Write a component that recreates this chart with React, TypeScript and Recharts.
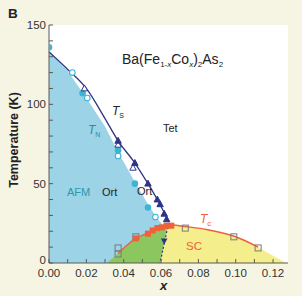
import React from 'react';
import { ComposedChart, XAxis, YAxis, Area, Line, Scatter, CartesianGrid } from 'recharts';

// Co content x and temperature (K)
const afmX = [0, 0.01, 0.02, 0.03, 0.037, 0.046, 0.053, 0.058, 0.061];
const afmT = [134, 121, 104, 86, 70, 51, 37, 28, 24];

const coexX = [0.031, 0.037, 0.0465, 0.053, 0.058, 0.0595, 0.0635];
const coexLo = [0, 0, 0, 0, 0, 0, 23.5];
const coexHi = [0, 6, 15.5, 19, 22, 22.5, 23.5];

const scX = [0.0595, 0.062, 0.066, 0.073, 0.085, 0.1, 0.112, 0.12, 0.127];
const scT = [22.5, 23, 24, 23, 21, 16.5, 10, 4.5, 0];

const tsX = [0, 0.01, 0.02, 0.03, 0.037, 0.046, 0.053, 0.058, 0.062, 0.064];
const tsT = [133, 122, 110, 91, 77, 63, 50, 40, 31, 26];

const tcX = [0.037, 0.0465, 0.053, 0.058, 0.062, 0.066, 0.073, 0.085, 0.1, 0.112];
const tcT = [6, 15.5, 19, 22, 23, 24, 23, 21, 16.5, 10];

const dropX = [0.064, 0.0595];
const dropT = [25, 0];

const cyanFilledX = [0, 0.018, 0.037, 0.046, 0.053];
const cyanFilledT = [136, 107, 71, 50, 35];
const cyanOpenX = [0.0125, 0.0205, 0.037, 0.057];
const cyanOpenT = [120, 104, 67.5, 29];

const navyFilledX = [0.037, 0.046, 0.053, 0.058, 0.0595, 0.0617, 0.063];
const navyFilledT = [77, 63, 50, 40, 37, 31, 27.5];
const navyOpenX = [0.019, 0.037, 0.045];
const navyOpenT = [110, 74.5, 60];
const navyDownX = [0.0617];
const navyDownT = [14];

const orangeX = [0.0465, 0.053, 0.0555, 0.058, 0.0605, 0.063, 0.0655];
const orangeT = [15.5, 18.5, 20.5, 22, 22.5, 23.5, 23.5];
const grayX = [0.037, 0.037, 0.0465, 0.073, 0.099, 0.112];
const grayT = [9.5, 5.7, 16.5, 22, 16.5, 9.5];

const xTicks = [0, 0.01, 0.02, 0.03, 0.04, 0.05, 0.06, 0.07, 0.08, 0.09, 0.1, 0.11, 0.12];
const yTicks = [0, 10, 20, 30, 40, 50, 60, 70, 80, 90, 100, 110, 120, 130, 140, 150];

const zip = (xs: number[], ts: number[]) => xs.map((x, i) => ({ x, t: ts[i] }));
const band = (xs: number[], lo: number[], hi: number[]) => xs.map((x, i) => ({ x, t: [lo[i], hi[i]] }));

const NAVY = '#2E3586';
const CYAN = '#3DB3D5';
const ORANGE = '#F0603A';
const FONT = '"Liberation Sans", Arial, sans-serif';

const circleFilled = (p: any) => <circle cx={p.cx} cy={p.cy} r={3.3} fill={CYAN} />;
const circleOpen = (p: any) => <circle cx={p.cx} cy={p.cy} r={2.8} fill="#fff" stroke={CYAN} strokeWidth={1.1} />;
const triUp = (fill: string) => (p: any) => (
  <path d={`M${p.cx},${p.cy - 3.5}L${p.cx + 3.2},${p.cy + 2.4}L${p.cx - 3.2},${p.cy + 2.4}Z`} fill={fill} stroke={NAVY} strokeWidth={1} />
);
const triDown = (p: any) => (
  <path d={`M${p.cx},${p.cy + 3.8}L${p.cx + 3.3},${p.cy - 2.4}L${p.cx - 3.3},${p.cy - 2.4}Z`} fill={NAVY} />
);
const sqOrange = (p: any) => <rect x={p.cx - 3} y={p.cy - 3} width={6} height={6} fill={ORANGE} />;
const sqGray = (p: any) => <rect x={p.cx - 3} y={p.cy - 3} width={6} height={6} fill="none" stroke="#7a7a7a" strokeWidth={1} />;

const fmtX = (v: number) => (Math.round(v * 100) % 2 === 0 ? v.toFixed(2) : '');
const tickStyle = { fill: '#333', fontSize: 11.5, fontFamily: FONT };

// y labels only every 50 K; the 0 sits a little above the axis like the original
const YTick = (p: any) => {
  const v = p.payload.value;
  if (v % 50 !== 0) return <g />;
  return (
    <text x={p.x} y={p.y + (v === 0 ? -3 : 0)} dy="0.355em" textAnchor="end" {...tickStyle}>
      {v}
    </text>
  );
};

export default function App() {
  return (
    <div style={{ position: 'absolute', left: 0, top: 0, width: 302, height: 296, background: '#F6F4E3' }}>
      <ComposedChart width={302} height={296} margin={{ top: 25, right: 14, left: 9, bottom: 13 }}>
        <CartesianGrid fill="#fff" stroke="none" horizontal={false} vertical={false} xAxisId="b" yAxisId="l" />
        <XAxis xAxisId="b" type="number" dataKey="x" domain={[0, 0.128]} ticks={xTicks} tickFormatter={fmtX}
          allowDataOverflow interval={0} height={20} tickSize={-4} tickMargin={10} stroke="#5a5a5a" tick={tickStyle} />
        <XAxis xAxisId="t" orientation="top" type="number" dataKey="x" domain={[0, 0.128]} ticks={xTicks}
          tickFormatter={() => ''} allowDataOverflow interval={0} height={0} tickSize={-4} stroke="#5a5a5a" />
        <YAxis yAxisId="l" type="number" dataKey="t" domain={[0, 150]} ticks={yTicks} tick={YTick}
          allowDataOverflow interval={0} width={40} tickSize={-4} tickMargin={7} stroke="#5a5a5a" />
        <YAxis yAxisId="r" orientation="right" type="number" dataKey="t" domain={[0, 150]} ticks={yTicks}
          tickFormatter={() => ''} allowDataOverflow interval={0} width={0} tickSize={-4} stroke="#5a5a5a" />

        <Area xAxisId="b" yAxisId="l" data={zip(afmX, afmT)} dataKey="t" type="linear" stroke="none" fill="#9CD3E7" fillOpacity={1} isAnimationActive={false} activeDot={false} />
        <Area xAxisId="b" yAxisId="l" data={zip(scX, scT)} dataKey="t" type="monotone" stroke="none" fill="#F4EE8C" fillOpacity={1} isAnimationActive={false} activeDot={false} />
        <Area xAxisId="b" yAxisId="l" data={band(coexX, coexLo, coexHi)} dataKey="t" type="linear" stroke="none" fill="#8CC65F" fillOpacity={1} isAnimationActive={false} activeDot={false} />

        <Line xAxisId="b" yAxisId="l" data={zip(tsX, tsT)} dataKey="t" type="monotone" stroke={NAVY} strokeWidth={1.3} dot={false} isAnimationActive={false} />
        <Line xAxisId="b" yAxisId="l" data={zip(tcX, tcT)} dataKey="t" type="monotone" stroke={ORANGE} strokeWidth={1.5} dot={false} isAnimationActive={false} />
        <Line xAxisId="b" yAxisId="l" data={zip(dropX, dropT)} dataKey="t" type="linear" stroke={NAVY} strokeWidth={1.2} strokeDasharray="2 2" dot={false} isAnimationActive={false} />

        <Scatter xAxisId="b" yAxisId="l" data={zip(grayX, grayT)} dataKey="t" shape={sqGray} isAnimationActive={false} />
        <Scatter xAxisId="b" yAxisId="l" data={zip(orangeX, orangeT)} dataKey="t" shape={sqOrange} isAnimationActive={false} />
        <Scatter xAxisId="b" yAxisId="l" data={zip(cyanOpenX, cyanOpenT)} dataKey="t" shape={circleOpen} isAnimationActive={false} />
        <Scatter xAxisId="b" yAxisId="l" data={zip(cyanFilledX, cyanFilledT)} dataKey="t" shape={circleFilled} isAnimationActive={false} />
        <Scatter xAxisId="b" yAxisId="l" data={zip(navyOpenX, navyOpenT)} dataKey="t" shape={triUp('#fff')} isAnimationActive={false} />
        <Scatter xAxisId="b" yAxisId="l" data={zip(navyFilledX, navyFilledT)} dataKey="t" shape={triUp(NAVY)} isAnimationActive={false} />
        <Scatter xAxisId="b" yAxisId="l" data={zip(navyDownX, navyDownT)} dataKey="t" shape={triDown} isAnimationActive={false} />
      </ComposedChart>

      <svg width={302} height={296} style={{ position: 'absolute', left: 0, top: 0, pointerEvents: 'none' }} fontFamily={FONT}>
        <text x={8} y={18} fontSize={13.5} fontWeight="bold" fill="#222">B</text>
        <text transform="translate(17.5,140) rotate(-90)" textAnchor="middle" fontSize={12.5} fontWeight="bold" fill="#222">Temperature (K)</text>
        <text x={163.5} y={290} textAnchor="middle" fontSize={13} fontWeight="bold" fontStyle="italic" fill="#222">x</text>

        <text x={122} y={63.5} fontSize={14} fill="#222">
          Ba(Fe<tspan fontSize={8} dy={3.5}>1-<tspan fontStyle="italic">x</tspan></tspan>
          <tspan dy={-3.5}>Co</tspan><tspan fontSize={8} fontStyle="italic" dy={3.5}>x</tspan>
          <tspan dy={-3.5}>)</tspan><tspan fontSize={8} dy={3.5}>2</tspan>
          <tspan dy={-3.5}>As</tspan><tspan fontSize={8} dy={3.5}>2</tspan>
        </text>

        <text x={112} y={115} fontSize={12} fontStyle="italic" fill="#222">T<tspan fontSize={7} fontStyle="normal" dy={3}>S</tspan></text>
        <text x={88} y={134} fontSize={12} fontStyle="italic" fill="#2A8E9E">T<tspan fontSize={7} fontStyle="normal" dy={3}>N</tspan></text>
        <text x={163} y={132} fontSize={11} fill="#222">Tet</text>
        <text x={67} y={196} fontSize={11} fill="#2A9AA8">AFM</text>
        <text x={102} y={196} fontSize={11} fill="#222">Ort</text>
        <text x={137} y={195} fontSize={11} fill="#222">Ort</text>
        <text x={200} y={223} fontSize={12} fontStyle="italic" fill={ORANGE}>T<tspan fontSize={8} fontStyle="normal" dy={3}>c</tspan></text>
        <text x={186} y={250} fontSize={11.5} fill={ORANGE}>SC</text>
      </svg>
    </div>
  );
}
